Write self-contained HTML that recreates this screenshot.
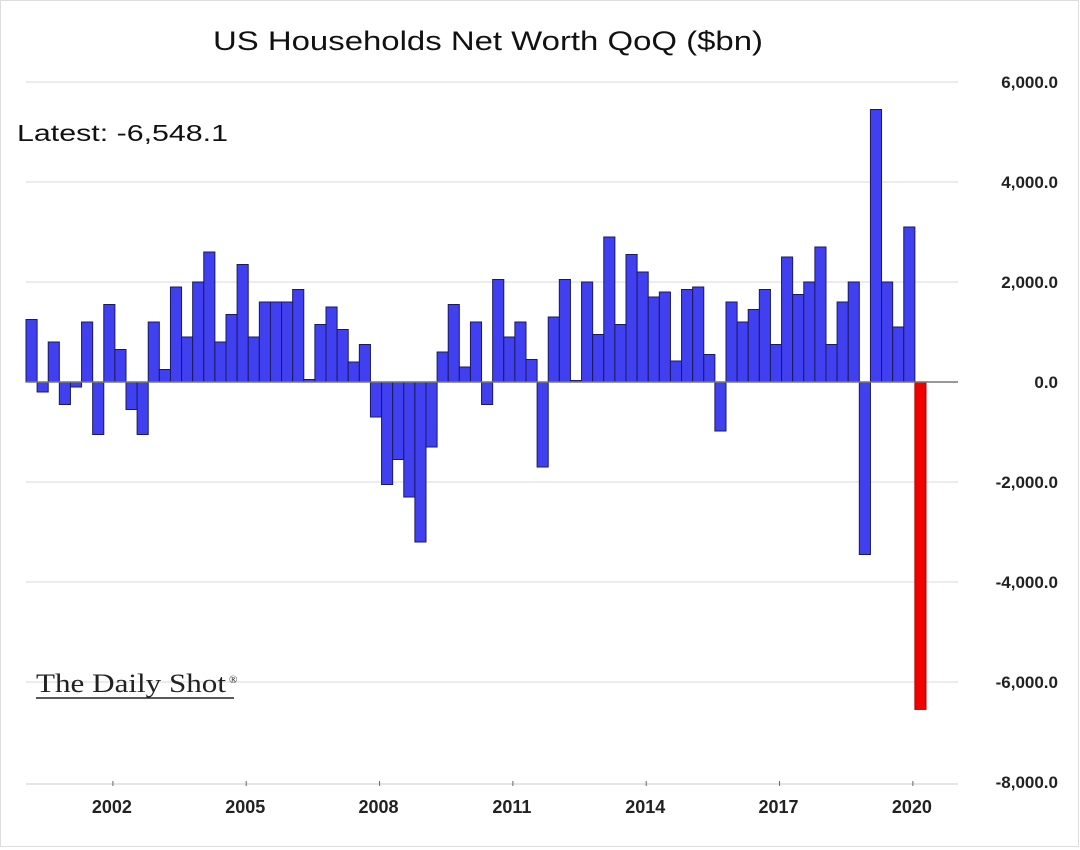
<!DOCTYPE html>
<html><head><meta charset="utf-8"><style>
body{margin:0;background:#fff;}
svg{display:block;font-family:"Liberation Sans",sans-serif;}
</style></head><body>
<svg width="1080" height="850">
<rect x="0.5" y="0.5" width="1078" height="846" fill="#fff" stroke="#ddd"/>
<text x="213" y="50" font-size="27" fill="#111" textLength="550" lengthAdjust="spacingAndGlyphs">US Households Net Worth QoQ ($bn)</text>
<text x="17" y="141" font-size="23" fill="#111" textLength="211" lengthAdjust="spacingAndGlyphs">Latest:  -6,548.1</text>
<g id="grid"></g>
<g id="bars"></g>
<g id="axes"></g>
<text x="36" y="692" font-family="Liberation Serif,serif" font-size="26" fill="#222" textLength="190" lengthAdjust="spacingAndGlyphs">The Daily Shot</text>
<text x="229" y="683" font-family="Liberation Serif,serif" font-size="11" fill="#222">®</text>
<line x1="36" y1="698" x2="234" y2="698" stroke="#222" stroke-width="1.5"/>
</svg>
<script>
const values=[1.25,-0.2,0.8,-0.45,-0.1,1.2,-1.05,1.55,0.65,-0.55,-1.05,1.2,0.25,1.9,0.9,2.0,2.6,0.8,1.35,2.35,0.9,1.6,1.6,1.6,1.85,0.05,1.15,1.5,1.05,0.4,0.75,-0.7,-2.05,-1.55,-2.3,-3.2,-1.3,0.6,1.55,0.3,1.2,-0.45,2.05,0.9,1.2,0.45,-1.7,1.3,2.05,0.03,2.0,0.95,2.9,1.15,2.55,2.2,1.7,1.8,0.42,1.85,1.9,0.55,-0.98,1.6,1.2,1.45,1.85,0.75,2.5,1.75,2.0,2.7,0.75,1.6,2.0,-3.45,5.45,2.0,1.1,3.1,-6.5481];
const yTicks=[6000,4000,2000,0,-2000,-4000,-6000,-8000];
const xYears=[2002,2005,2008,2011,2014,2017,2020];
const NS="http://www.w3.org/2000/svg";
const y=v=>382-v*0.05;
const qx=i=>26+i*11.111;
const yx=yr=>qx((yr-2000)*4);
function mk(tag,attrs,parent){const e=document.createElementNS(NS,tag);for(const k in attrs)e.setAttribute(k,attrs[k]);document.getElementById(parent).appendChild(e);return e;}
yTicks.forEach(t=>{
  if(t!==0&&t!==-8000){const l=mk('line',{x1:26,x2:958,y1:y(t),y2:y(t),stroke:'#e6e6e6','stroke-width':1.5},'grid');
  
  }
  const tx=mk('text',{x:1058,y:y(t)+6,'text-anchor':'end','font-size':17,'font-weight':'bold',fill:'#222'},'axes');
  tx.textContent=t.toLocaleString('en-US',{minimumFractionDigits:1,maximumFractionDigits:1});
  
  
});
values.forEach((v,i)=>{
  const v1=v*1000,last=i===values.length-1;
  const r=mk('rect',{x:qx(i),y:Math.min(y(v1),y(0)),width:11.111,height:Math.abs(y(v1)-y(0)),fill:last?'#f20000':'#4040f0',stroke:last?'#b00000':'#1a1a60','stroke-width':1},'bars');
  
  
});
const z=mk('line',{x1:26,x2:958,y1:y(0),y2:y(0),stroke:'#777','stroke-width':1.5},'axes');


const xa=mk('line',{x1:26,x2:958,y1:784,y2:784,stroke:'#ddd','stroke-width':1.5},'axes');


xYears.forEach(yr=>{
  const t=mk('line',{x1:yx(yr)-2,x2:yx(yr)-2,y1:781,y2:786,stroke:'#666'},'axes');
  
  
  const tx=mk('text',{x:yx(yr)-3,y:813,'text-anchor':'middle','font-size':18,'font-weight':'bold',fill:'#222'},'axes');
  tx.textContent=yr;
  
  
});
</script>
</body></html>
